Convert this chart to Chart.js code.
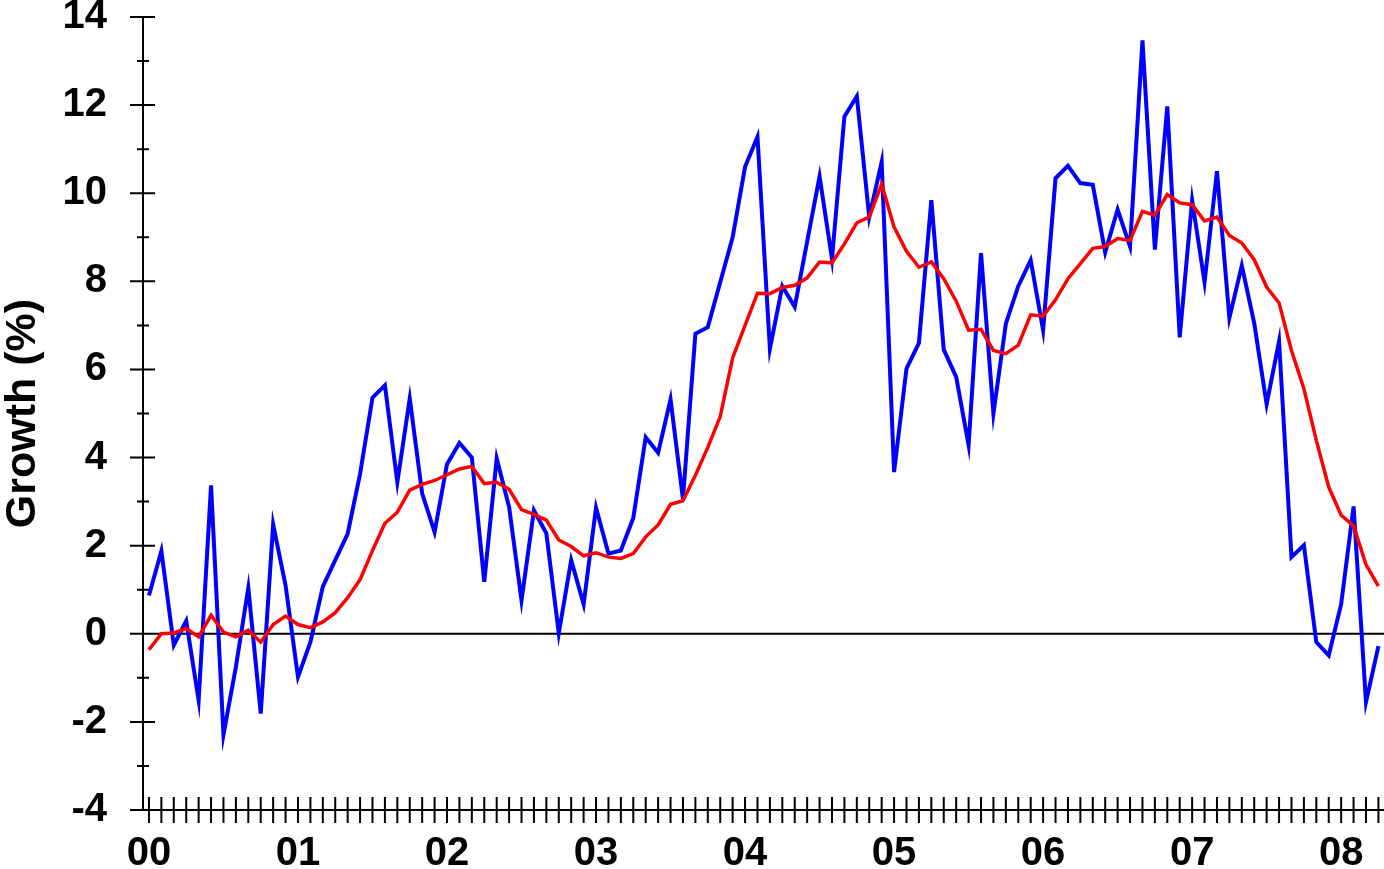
<!DOCTYPE html>
<html>
<head>
<meta charset="utf-8">
<script src="https://cdn.jsdelivr.net/npm/chart.js@4.4.1/dist/chart.umd.min.js"></script>
<style>
  html, body { margin: 0; padding: 0; background: #fff; }
  #wrap { width: 1384px; height: 869px; }
</style>
</head>
<body>
<div id="wrap"><canvas id="myChart" width="1384" height="869"></canvas></div>
<script>
// monthly, Jan 2000 .. Apr 2008
var yearLabels = ['00', '01', '02', '03', '04', '05', '06', '07', '08'];

var growth = [
  0.87, 1.88, -0.26, 0.29, -1.51, 3.37, -2.29, -0.75, 1.04, -1.81, 2.48, 1.10,
  -0.98, -0.19, 1.07, 1.67, 2.27, 3.63, 5.36, 5.64, 3.44, 5.34, 3.18, 2.31,
  3.85, 4.33, 4.00, 1.18, 3.98, 2.88, 0.76, 2.80, 2.28, 0.01, 1.67, 0.67,
  2.86, 1.82, 1.89, 2.63, 4.46, 4.11, 5.32, 3.06, 6.81, 6.96, 7.98, 9.00,
  10.60, 11.28, 6.47, 7.89, 7.42, 8.90, 10.38, 8.51, 11.74, 12.20, 9.46, 10.71,
  3.67, 6.02, 6.60, 9.84, 6.45, 5.83, 4.28, 8.64, 5.00, 7.04, 7.89, 8.48,
  6.89, 10.34, 10.62, 10.23, 10.19, 8.66, 9.63, 8.79, 13.47, 8.72, 11.97, 6.73,
  9.84, 7.98, 10.50, 7.17, 8.36, 7.05, 5.21, 6.64, 1.74, 2.01, -0.19, -0.49,
  0.67, 2.89, -1.55, -0.28
];

var trend = [
  -0.36, 0.00, 0.02, 0.12, -0.07, 0.42, 0.04, -0.07, 0.08, -0.19, 0.21, 0.40,
  0.21, 0.14, 0.27, 0.48, 0.82, 1.23, 1.89, 2.51, 2.76, 3.26, 3.39, 3.48,
  3.61, 3.74, 3.80, 3.41, 3.44, 3.28, 2.82, 2.71, 2.58, 2.13, 1.98, 1.77,
  1.84, 1.74, 1.71, 1.82, 2.20, 2.47, 2.94, 3.02, 3.60, 4.23, 4.93, 6.26,
  7.00, 7.73, 7.72, 7.86, 7.91, 8.08, 8.44, 8.42, 8.85, 9.33, 9.46, 10.21,
  9.23, 8.68, 8.32, 8.44, 8.06, 7.55, 6.89, 6.91, 6.43, 6.36, 6.55, 7.24,
  7.21, 7.58, 8.06, 8.40, 8.75, 8.79, 8.97, 8.93, 9.59, 9.50, 9.97, 9.78,
  9.74, 9.37, 9.46, 9.04, 8.87, 8.49, 7.87, 7.51, 6.43, 5.56, 4.39, 3.33,
  2.69, 2.45, 1.57, 1.08
];

function toPoints(arr) {
  var pts = [];
  for (var i = 0; i < arr.length; i++) {
    pts.push({ x: i, y: arr[i] });
  }
  return pts;
}

// axis lines + ticks that cross the axis, and the zero line
var axesPlugin = {
  id: 'axesPlugin',
  beforeDatasetsDraw: function (chart) {
    var ctx = chart.ctx;
    var xs = chart.scales.x;
    var ys = chart.scales.y;
    var area = chart.chartArea;
    var ax = area.left;
    var ay = area.bottom;
    ctx.save();
    ctx.strokeStyle = '#000';
    ctx.lineWidth = 2;
    ctx.beginPath();
    // zero line
    var y0 = ys.getPixelForValue(0);
    ctx.moveTo(ax - 13, y0);
    ctx.lineTo(area.right, y0);
    // y axis
    ctx.moveTo(ax, area.top);
    ctx.lineTo(ax, ay);
    // x axis
    ctx.moveTo(ax - 13, ay);
    ctx.lineTo(area.right, ay);
    // y ticks
    for (var v = -4; v <= 14; v++) {
      var py = ys.getPixelForValue(v);
      if (v % 2 === 0) {
        ctx.moveTo(ax - 13, py);
        ctx.lineTo(ax + 12, py);
      } else {
        ctx.moveTo(ax - 6, py);
        ctx.lineTo(ax + 6, py);
      }
    }
    // monthly ticks
    for (var m = 0; ; m++) {
      var px = xs.getPixelForValue(m);
      if (px > area.right + 1) break;
      ctx.moveTo(px, ay - 13);
      ctx.lineTo(px, ay + 13);
    }
    ctx.stroke();
    ctx.restore();
  }
};

var ctx = document.getElementById('myChart');
var myChart = new Chart(ctx, {
  type: 'line',
  data: {
    datasets: [{
      data: toPoints(trend),
      borderColor: '#ff0000',
      borderWidth: 3.5,
      pointRadius: 0,
      tension: 0,
      fill: false
    }, {
      data: toPoints(growth),
      borderColor: '#0000ff',
      borderWidth: 4,
      pointRadius: 0,
      tension: 0,
      fill: false
    }]
  },
  options: {
    responsive: false,
    animation: false,
    layout: { padding: { top: 17, left: 0, right: 0, bottom: 0 } },
    plugins: {
      legend: { display: false },
      tooltip: { enabled: false }
    },
    scales: {
      x: {
        type: 'linear',
        min: -0.48,
        max: 99.45,
        grid: { display: false, drawTicks: false },
        border: { display: false },
        afterBuildTicks: function (scale) {
          scale.ticks = yearLabels.map(function (l, k) { return { value: k * 12 }; });
        },
        afterFit: function (scale) {
          scale.height = 59;
          scale.paddingLeft = 0;
          scale.paddingRight = 0;
        },
        ticks: {
          autoSkip: false,
          maxRotation: 0,
          padding: 20,
          color: '#000',
          font: { family: 'Liberation Sans', size: 40, weight: 'bold' },
          callback: function (value) { return yearLabels[Math.round(value / 12)]; }
        }
      },
      y: {
        min: -4,
        max: 14,
        grid: { display: false, drawTicks: false },
        border: { display: false },
        afterFit: function (scale) {
          scale.width = 143;
          scale.paddingTop = 0;
          scale.paddingBottom = 0;
        },
        ticks: {
          stepSize: 2,
          padding: 36,
          color: '#000',
          font: { family: 'Liberation Sans', size: 40, weight: 'bold' }
        },
        title: {
          display: true,
          text: 'Growth (%)',
          color: '#000',
          padding: { top: 2, bottom: 0 },
          font: { family: 'Liberation Sans', size: 43, weight: 'bold', lineHeight: 1 }
        }
      }
    }
  },
  plugins: [axesPlugin]
});
</script>
</body>
</html>
